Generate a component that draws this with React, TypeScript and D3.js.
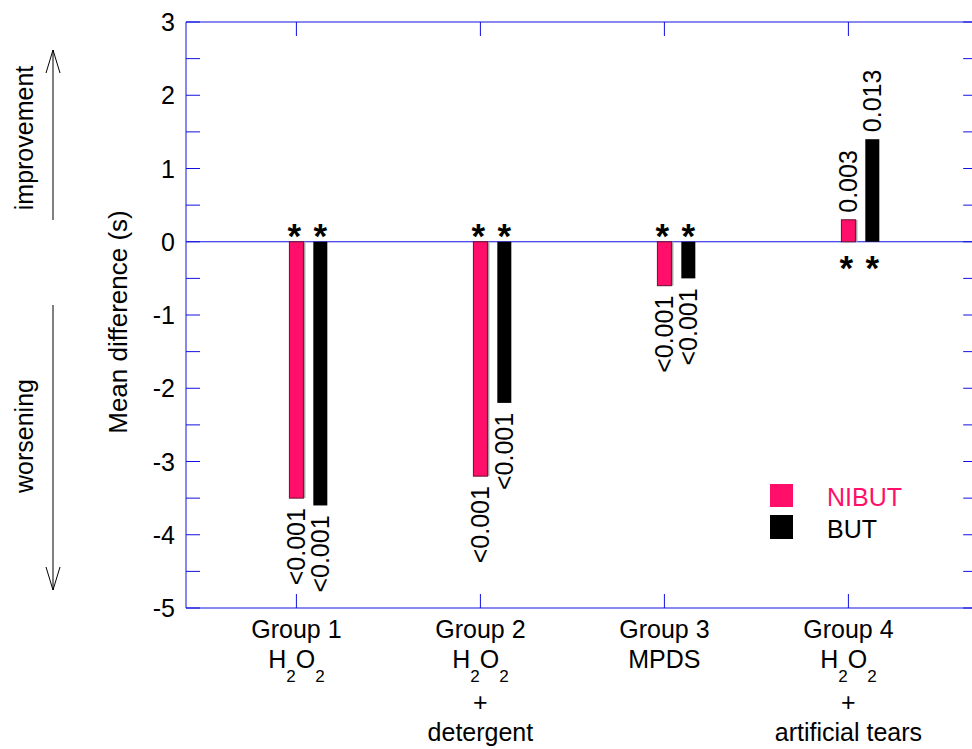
import * as d3 from 'd3';
import { useEffect } from 'react';

const WIDTH = 972, HEIGHT = 749;

const groups = [1, 2, 3, 4];
const groupLines = [
  ['Group 1', 'H2O2'],
  ['Group 2', 'H2O2', '+', 'detergent'],
  ['Group 3', 'MPDS'],
  ['Group 4', 'H2O2', '+', 'artificial tears'],
];
const nibut = [-3.5, -3.2, -0.6, 0.3];
const but = [-3.6, -2.2, -0.5, 1.4];
const nibutP = ['<0.001', '<0.001', '<0.001', '0.003'];
const butP = ['<0.001', '<0.001', '<0.001', '0.013'];
const yTicks = [-5, -4, -3, -2, -1, 0, 1, 2, 3];
const yMinor = [-4.5, -3.5, -2.5, -1.5, -0.5, 0.5, 1.5, 2.5];

const PINK = '#ff0f6a';
const AXIS = '#1010e0';

const x = d3.scaleLinear().domain([0.4, 4.7]).range([186, 977.2]);
const y = d3.scaleLinear().domain([-5, 3]).range([608, 22]);

const BAR_W = 14;
const BUT_SHIFT = 0.13;

const lineY = [638, 668, 711, 741];

function Label({ text, cx, yy }: { text: string; cx: number; yy: number }) {
  if (text === 'H2O2') {
    return (
      <text x={cx} y={yy} textAnchor="middle" fontSize={25}>
        <tspan>H</tspan>
        <tspan dy={14} fontSize={17}>2</tspan>
        <tspan dy={-14}>O</tspan>
        <tspan dy={14} fontSize={17}>2</tspan>
      </text>
    );
  }
  return (
    <text x={cx} y={yy} textAnchor="middle" fontSize={25}>{text}</text>
  );
}

const App = () => {
  useEffect(() => {
    document.body.style.margin = '0';
  }, []);

  const y0 = y(0);
  const bars = groups.flatMap((g, i) => [
    { cx: x(g), v: nibut[i], p: nibutP[i], fill: PINK, key: 'n' + i },
    { cx: x(g + BUT_SHIFT), v: but[i], p: butP[i], fill: '#000', key: 'b' + i },
  ]);

  return (
    <svg width={WIDTH} height={HEIGHT} style={{ display: 'block', fontFamily: 'Liberation Sans, Arial, sans-serif' }}>
      <rect width={WIDTH} height={HEIGHT} fill="#fff" />

      {/* frame */}
      <line x1={x(0.4)} x2={x(0.4)} y1={y(3)} y2={y(-5)} stroke={AXIS} />
      <line x1={x(4.7)} x2={x(4.7)} y1={y(3)} y2={y(-5)} stroke={AXIS} />
      <line x1={x(0.4)} x2={x(4.7)} y1={y(3)} y2={y(3)} stroke={AXIS} />
      <line x1={x(0.4)} x2={x(4.7)} y1={y(-5)} y2={y(-5)} stroke={AXIS} />

      {[...yTicks, ...yMinor].map((t) => (
        <g key={'t' + t}>
          <line x1={x(0.4)} x2={x(0.4) + 14} y1={y(t)} y2={y(t)} stroke={AXIS} />
          <line x1={x(4.7)} x2={x(4.7) - 14} y1={y(t)} y2={y(t)} stroke={AXIS} />
        </g>
      ))}
      {groups.map((g) => (
        <g key={'xt' + g}>
          <line x1={x(g)} x2={x(g)} y1={y(3)} y2={y(3) + 14} stroke={AXIS} />
          <line x1={x(g)} x2={x(g)} y1={y(-5)} y2={y(-5) - 14} stroke={AXIS} />
        </g>
      ))}
      {yTicks.map((t) => (
        <text key={'yl' + t} x={175} y={y(t)} dy="0.36em" textAnchor="end" fontSize={25}>{t}</text>
      ))}

      {/* zero line */}
      <line x1={x(0.4)} x2={x(4.7)} y1={y0} y2={y0} stroke={AXIS} />

      {/* bars */}
      {bars.map((b) => {
        const top = Math.min(y(b.v), y0);
        const h = Math.abs(y(b.v) - y0);
        const neg = b.v < 0;
        return (
          <g key={b.key}>
            {b.fill === PINK && (
              <rect x={b.cx - BAR_W / 2 + 2} y={top} width={BAR_W} height={h} fill="#a0a0a0" />
            )}
            <rect x={b.cx - BAR_W / 2} y={top} width={BAR_W} height={h} fill={b.fill}
              stroke={b.fill === PINK ? '#6a1030' : 'none'} strokeWidth={1} />
            <text transform={`translate(${b.cx + 9},${neg ? y(b.v) + 10 : y(b.v) - 7}) rotate(-90)`}
              textAnchor={neg ? 'end' : 'start'} fontSize={25}>{b.p}</text>
            <text x={b.cx - (b.fill === PINK ? 2 : 0)} y={neg ? y0 + 6 : y0 + 38} textAnchor="middle"
              fontSize={35} fontWeight="bold">*</text>
          </g>
        );
      })}

      {/* y axis title */}
      <text transform={`translate(127,322) rotate(-90)`} textAnchor="middle" fontSize={26}>Mean difference (s)</text>

      {/* improvement / worsening */}
      <text transform={`translate(33,138) rotate(-90)`} textAnchor="middle" fontSize={25}>improvement</text>
      <text transform={`translate(33,436) rotate(-90)`} textAnchor="middle" fontSize={25}>worsening</text>
      <g stroke="#000" fill="none" strokeWidth={1}>
        <line x1={53} x2={53} y1={50} y2={220} />
        <polyline points="46,73 53,50 60,73" />
        <line x1={53} x2={53} y1={305} y2={590} />
        <polyline points="46,567 53,590 60,567" />
      </g>

      {/* legend */}
      <rect x={770} y={484} width={23} height={23} fill={PINK} />
      <rect x={770} y={515} width={23} height={24} fill="#000" />
      <text x={827} y={506} fontSize={25} fill={PINK}>NIBUT</text>
      <text x={827} y={538} fontSize={25}>BUT</text>

      {/* x labels */}
      {groups.map((g, i) => (
        <g key={'gl' + g}>
          {groupLines[i].map((t, j) => (
            <Label key={j} text={t} cx={x(g)} yy={lineY[j]} />
          ))}
        </g>
      ))}
    </svg>
  );
};

export default App;
